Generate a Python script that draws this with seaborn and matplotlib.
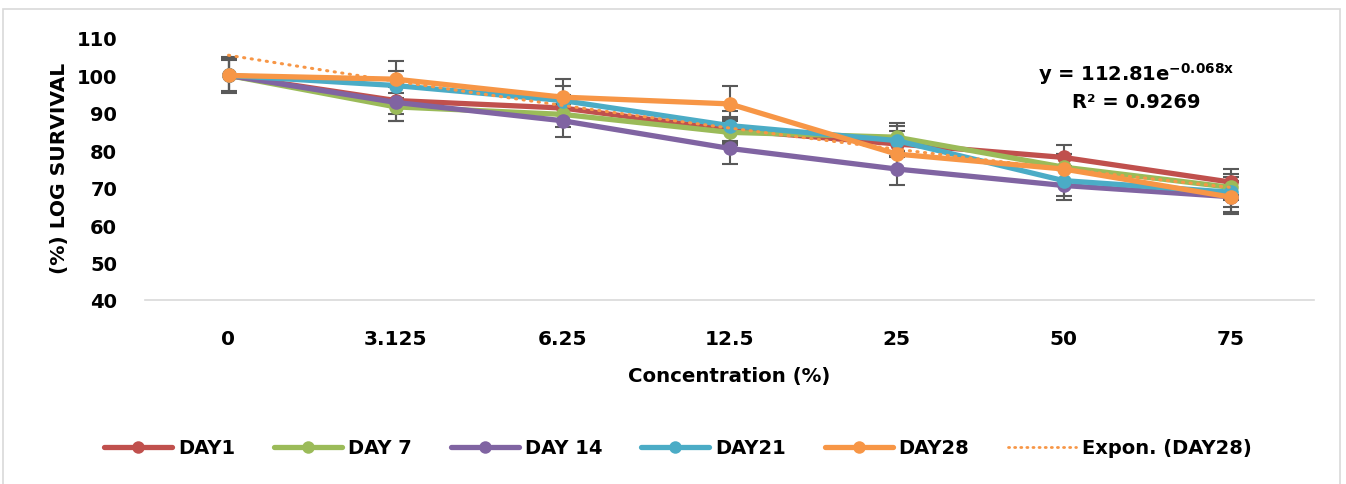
import numpy as np
import pandas as pd
import matplotlib
matplotlib.use("Agg")
import matplotlib.pyplot as plt
from matplotlib.lines import Line2D
from matplotlib.patches import Rectangle
import seaborn as sns

# ---------------- data ----------------
concentrations = ["0", "3.125", "6.25", "12.5", "25", "50", "75"]
series_names = ["DAY1", "DAY 7", "DAY 14", "DAY21", "DAY28"]
day1 = [100, 93.3, 91.3, 85.5, 81.7, 78.1, 71.5]
day7 = [100, 91.6, 89.6, 84.8, 83.5, 75.5, 70.1]
day14 = [100, 92.8, 87.9, 80.5, 75.0, 70.6, 67.6]
day21 = [100, 97.3, 93.3, 86.6, 82.6, 71.9, 68.8]
day28 = [100, 99.0, 94.2, 92.4, 79.0, 75.0, 67.5]
err1 = [4.5, 3.5, 3.5, 3.5, 3.5, 3.3, 3.5]
err7 = [4.5, 3.7, 3.5, 3.5, 3.7, 3.5, 3.5]
err14 = [4.5, 4.9, 4.4, 4.1, 4.4, 4.0, 4.0]
err21 = [4.2, 4.0, 4.0, 4.0, 4.0, 4.0, 4.0]
err28 = [4.8, 4.9, 4.9, 4.7, 4.0, 4.0, 4.4]
trend_a = 112.81
trend_b = -0.068
trend_label = "Expon. (DAY28)"
colors = ["#C0504D", "#9BBB59", "#8064A2", "#4BACC6", "#F79646"]
y_ticks = [40, 50, 60, 70, 80, 90, 100, 110]

values = [day1, day7, day14, day21, day28]
errors = [err1, err7, err14, err21, err28]

rows = []
for name, vals in zip(series_names, values):
    for i, v in enumerate(vals):
        rows.append({"pos": i, "value": v, "series": name})
df = pd.DataFrame(rows)

# ---------------- style ----------------
sns.set_style("white")
plt.rcParams["font.family"] = ["DejaVu Sans"]
plt.rcParams["font.weight"] = "bold"
plt.rcParams["mathtext.fontset"] = "dejavusans"
plt.rcParams["text.color"] = "black"
plt.rcParams["xtick.color"] = "black"
plt.rcParams["ytick.color"] = "black"

fig = plt.figure(figsize=(13.46, 4.85), dpi=100)
ax = fig.add_axes([145 / 1346, 1 - 301 / 485, (1314 - 145) / 1346, (301 - 39) / 485])

# error bars (under the lines)
for vals, errs in zip(values, errors):
    ax.errorbar(range(len(vals)), vals, yerr=errs, fmt="none", ecolor="#595959",
                elinewidth=1.5, capsize=6, capthick=1.5, zorder=1)

palette = dict(zip(series_names, colors))
sns.lineplot(data=df, x="pos", y="value", hue="series", hue_order=series_names,
             palette=palette, marker="o", markersize=10.5, markeredgewidth=0,
             linewidth=3.8, legend=False, ax=ax, zorder=3)

# exponential trendline on DAY28
xt = np.linspace(0, len(concentrations) - 1, 200)
yt = trend_a * np.exp(trend_b * (xt + 1))
sns.lineplot(x=xt, y=yt, ax=ax, color=colors[4], linewidth=2.2,
             linestyle=(0, (0.4, 2.1)), zorder=5)
ax.lines[-1].set_dash_capstyle("round")

ax.set_xlim(-0.5, len(concentrations) - 0.5)
ax.set_ylim(40, 110)
ax.set_yticks(y_ticks)
ax.set_yticklabels([str(t) for t in y_ticks], fontsize=14, fontweight="bold", color="black")
ax.set_xticks(range(len(concentrations)))
ax.set_xticklabels(concentrations, fontsize=14.5, fontweight="bold", color="black")
ax.tick_params(axis="both", length=0)
ax.tick_params(axis="x", pad=21)
ax.tick_params(axis="y", pad=20)
ax.set_xlabel("")
ax.set_ylabel("")
for s in ["top", "right", "left"]:
    ax.spines[s].set_visible(False)
ax.spines["bottom"].set_color("#D9D9D9")
ax.spines["bottom"].set_linewidth(1.2)
ax.grid(False)

fig.text(729 / 1346, 1 - 377 / 485, "Concentration (%)", ha="center", va="center",
         fontsize=14.2, fontweight="bold", color="black")
fig.text(60 / 1346, 1 - 168 / 485, "(%) LOG SURVIVAL", ha="center", va="center",
         rotation=90, fontsize=14.6, fontweight="bold", color="black")

fig.text(1136 / 1346, 1 - 74 / 485, r"y = 112.81e$^{\mathbf{-0.068x}}$", ha="center",
         va="center", fontsize=14, fontweight="bold", color="black")
fig.text(1136 / 1346, 1 - 103 / 485, "R² = 0.9269", ha="center", va="center",
         fontsize=14, fontweight="bold", color="black")

handles = [Line2D([0], [0], color=c, linewidth=3.8, marker="o", markersize=9,
                  markeredgewidth=0) for c in colors]
handles.append(Line2D([0], [0], color=colors[4], linewidth=2.0,
                      linestyle=(0, (0.4, 1.8)), dash_capstyle="round"))
labels = series_names + [trend_label]
fig.legend(handles, labels, loc="center", bbox_to_anchor=(678 / 1346, 1 - 449 / 485),
           ncol=6, frameon=False, handlelength=3.5, handletextpad=0.3,
           columnspacing=2.0, labelcolor="black",
           prop={"size": 14, "weight": "bold"})

fig.patches.append(Rectangle((3 / 1346, -0.01), (1340 - 3) / 1346, 1 - 10 / 485 + 0.01,
                             transform=fig.transFigure, fill=False,
                             edgecolor="#D9D9D9", linewidth=1.2))

fig.savefig("out.png", dpi=100)
